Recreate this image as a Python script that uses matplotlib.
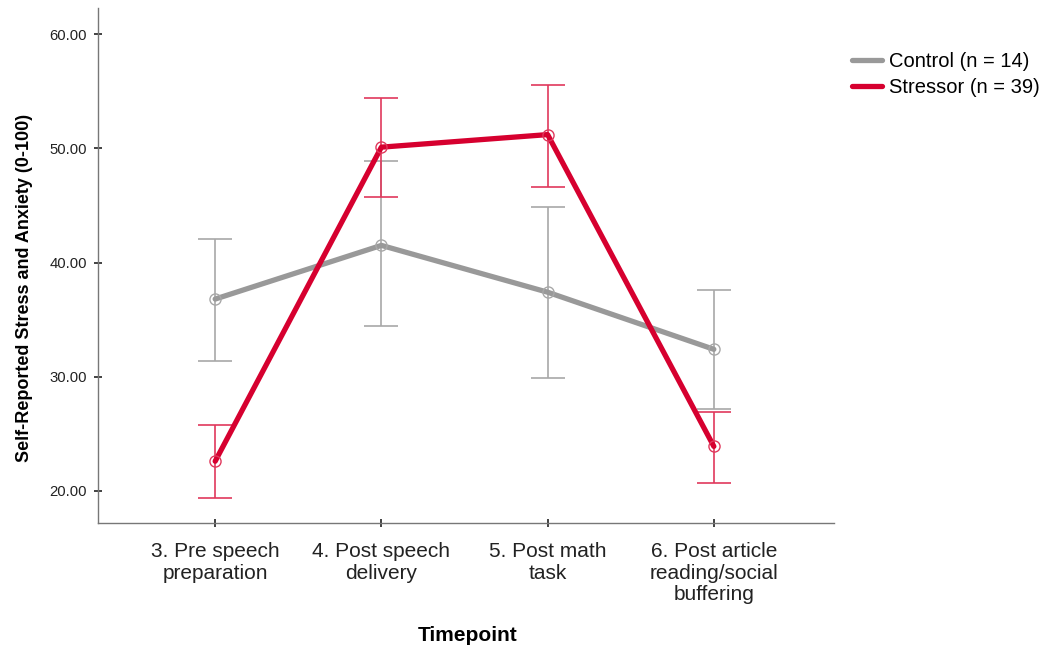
import numpy as np
import matplotlib
matplotlib.use('agg')
import matplotlib.pyplot as plt

plt.rcParams['font.family'] = ['Liberation Sans', 'DejaVu Sans']

timepoints = ['3. Pre speech\npreparation', '4. Post speech\ndelivery',
              '5. Post math\ntask', '6. Post article\nreading/social\nbuffering']

control_mean = [36.8, 41.5, 37.4, 32.4]
control_low = [31.4, 34.4, 29.9, 27.2]
control_high = [42.1, 48.9, 44.9, 37.6]

stressor_mean = [22.6, 50.1, 51.2, 23.9]
stressor_low = [19.4, 45.7, 46.6, 20.7]
stressor_high = [25.8, 54.4, 55.5, 26.9]

gray = '#999999'
gray_err = '#a8a8a8'
red = '#d6002f'
red_err = '#e0385c'

fig = plt.figure(figsize=(10.47, 6.52), dpi=100)
ax = fig.add_axes([0.0936, 0.198, 0.7025, 0.79])

x = np.arange(len(timepoints))

def draw(mean, low, high, col, ecol, label, z):
    mean = np.array(mean)
    yerr = [mean - np.array(low), np.array(high) - mean]
    ax.errorbar(x, mean, yerr=yerr, fmt='none', ecolor=ecol, elinewidth=1.2,
                capsize=12, capthick=1.2, zorder=z)
    ax.plot(x, mean, color=col, lw=3.8, label=label, zorder=z + 1,
            solid_capstyle='round')
    ax.plot(x, mean, 'o', ms=8, mfc='none', mec=ecol, mew=1.0, zorder=z + 2)

draw(stressor_mean, stressor_low, stressor_high, red, red_err, 'Stressor (n = 39)', 3)
draw(control_mean, control_low, control_high, gray, gray_err, 'Control (n = 14)', 1)

ax.set_xlim(-0.705, 3.72)
ax.set_ylim(17.2, 62.3)
ax.set_yticks([20, 30, 40, 50, 60])
ax.set_yticklabels(['%.2f' % v for v in [20, 30, 40, 50, 60]], fontsize=10.7, color='#222222')
ax.set_xticks(x)
ax.set_xticklabels(timepoints, fontsize=15, color='#222222', linespacing=1.15)

for side in ['top', 'right']:
    ax.spines[side].set_visible(False)
for side in ['left', 'bottom']:
    ax.spines[side].set_color('#777777')
    ax.spines[side].set_linewidth(1.0)
ax.tick_params(axis='both', length=6, width=1.2, color='#222222', direction='inout')
ax.tick_params(axis='y', pad=5)
ax.tick_params(axis='x', pad=11)

ax.set_ylabel('Self-Reported Stress and Anxiety (0-100)', fontsize=13, fontweight='bold')
ax.yaxis.set_label_coords(-0.088, 0.456)
ax.set_xlabel('Timepoint', fontsize=15, fontweight='bold')
ax.xaxis.set_label_coords(0.502, -0.20)

handles, labels = ax.get_legend_handles_labels()
fig.legend(handles[::-1], labels[::-1], loc='upper left', bbox_to_anchor=(0.814, 0.92),
           frameon=False, fontsize=14.5, handlelength=1.5, handletextpad=0.3,
           labelspacing=0.35, borderaxespad=0, borderpad=0)

fig.savefig('out.png', dpi=100, facecolor='white')
